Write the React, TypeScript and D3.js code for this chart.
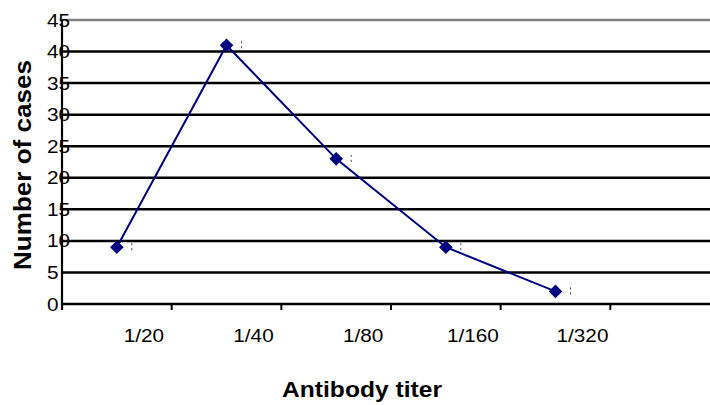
import React from "react";
import * as d3 from "d3";

const categories = ["1/20", "1/40", "1/80", "1/160", "1/320", ""];
const cases = [9, 41, 23, 9, 2];
const yTicks = [0, 5, 10, 15, 20, 25, 30, 35, 40, 45];

const W = 710;
const H = 405;
const FONT = "'Liberation Sans', Arial, sans-serif";

export default function App() {
  const x = d3.scaleBand<string>().domain(categories).range([62, 720]).padding(0);
  const y = d3.scaleLinear().domain([0, 45]).range([304, 20]);
  const bw = x.bandwidth();
  const pts = cases.map((v, i) => [x(categories[i])! + bw / 2, y(v)] as [number, number]);
  const line = d3.line<[number, number]>()(pts) || "";
  const diamond = d3.symbol().type(d3.symbolDiamond2).size(118)() || "";

  return (
    <svg
      width={W}
      height={H}
      style={{ position: "absolute", left: 0, top: 0, background: "#fff" }}
      fontFamily={FONT}
    >
      {yTicks.map((t) => (
        <line
          key={"g" + t}
          x1={62}
          x2={W}
          y1={y(t)}
          y2={y(t)}
          stroke={t === 45 ? "#808080" : "#000"}
          strokeWidth={2.5}
        />
      ))}
      <line x1={62} x2={62} y1={20} y2={310} stroke="#000" strokeWidth={2.2} />
      {categories.map((c, i) => {
        const bx = x(c)! + bw;
        return <line key={"t" + i} x1={bx} x2={bx} y1={304} y2={310} stroke="#000" strokeWidth={2} />;
      })}
      {yTicks.map((t) => (
        <text
          key={"yl" + t}
          transform={`translate(47,${y(t) + 6.5}) scale(1.12,1)`}
          fontSize={18.5}
          fill="#000"
        >
          {t}
        </text>
      ))}
      {categories.map((c, i) =>
        c ? (
          <text
            key={"xl" + i}
            transform={`translate(${x(c)! + bw / 2 + 27},342) scale(1.12,1)`}
            fontSize={18.5}
            textAnchor="middle"
            fill="#000"
          >
            {c}
          </text>
        ) : null
      )}
      <path d={line} fill="none" stroke="#000080" strokeWidth={2} />
      {pts.map((p, i) => (
        <g key={"p" + i}>
          <path d={diamond} transform={`translate(${p[0]},${p[1]})`} fill="#000080" />
          <line
            x1={p[0] + 15}
            x2={p[0] + 15}
            y1={p[1] - 4}
            y2={p[1] + 5}
            stroke="#444"
            strokeWidth={1}
            strokeDasharray="2,3"
          />
        </g>
      ))}
      <text
        x={362}
        y={397}
        textAnchor="middle"
        fontSize={21.5}
        fontWeight="bold"
        textLength={160}
        lengthAdjust="spacingAndGlyphs"
        fill="#000"
      >
        Antibody titer
      </text>
      <text
        transform="translate(31,165) rotate(-90)"
        textAnchor="middle"
        fontSize={24}
        fontWeight="bold"
        textLength={210}
        lengthAdjust="spacingAndGlyphs"
        fill="#000"
      >
        Number of cases
      </text>
    </svg>
  );
}
